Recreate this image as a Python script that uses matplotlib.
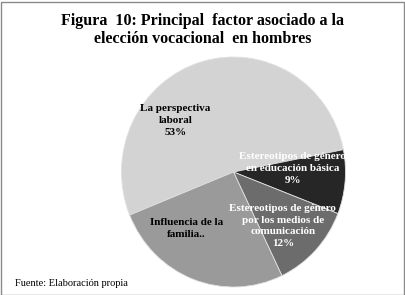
import matplotlib
matplotlib.use("Agg")
import matplotlib.pyplot as plt
from matplotlib.patches import Rectangle

# data
labels = ["La perspectiva\nlaboral\n53%",
          "Estereotipos de género\nen educación básica\n9%",
          "Estereotipos de género\npor los medios de\ncomunicación\n12%",
          "Influencia de la\nfamilia.."]
values = [53, 9, 12, 26]
colors = ["#d3d3d3", "#262626", "#6c6c6c", "#9a9a9a"]
text_colors = ["black", "white", "white", "black"]
label_pos = [(-0.52, 0.45), (0.53, 0.03), (0.44, -0.47), (-0.42, -0.49)]

plt.rcParams['font.family'] = ['Liberation Serif', 'DejaVu Serif']

W, H = 405, 295
fig = plt.figure(figsize=(W / 100, H / 100), dpi=100)

# outer frame
fig.patches.append(Rectangle((0.5 / W, 0.5 / H), 1 - 2 / W, 1 - 2 / H,
                             transform=fig.transFigure, fill=False,
                             edgecolor="#8a8a8a", linewidth=1))

fig.text(0.5, 1 - 30 / H,
         "Figura  10: Principal  factor asociado a la\nelección vocacional  en hombres",
         ha="center", va="center", fontsize=11.5, fontweight="bold",
         linespacing=1.2)

ax = fig.add_axes([121.5 / W, (H - 287) / H, 224 / W, 230 / H])
ax.pie(values, colors=colors, startangle=202, counterclock=False, radius=1,
       wedgeprops=dict(edgecolor="#e0e0e0", linewidth=0.6))
ax.set_xlim(-1, 1)
ax.set_ylim(-1, 1)
ax.set_aspect("auto")
ax.axis("off")

for lab, (x, y), c in zip(labels, label_pos, text_colors):
    ax.text(x, y, lab, ha="center", va="center", fontsize=8,
            fontweight="bold", color=c, linespacing=1.4, clip_on=True)

fig.text(15 / W, 1 - 283 / H, "Fuente: Elaboración propia",
         ha="left", va="center", fontsize=7.5)

fig.savefig("out.png", dpi=100)
